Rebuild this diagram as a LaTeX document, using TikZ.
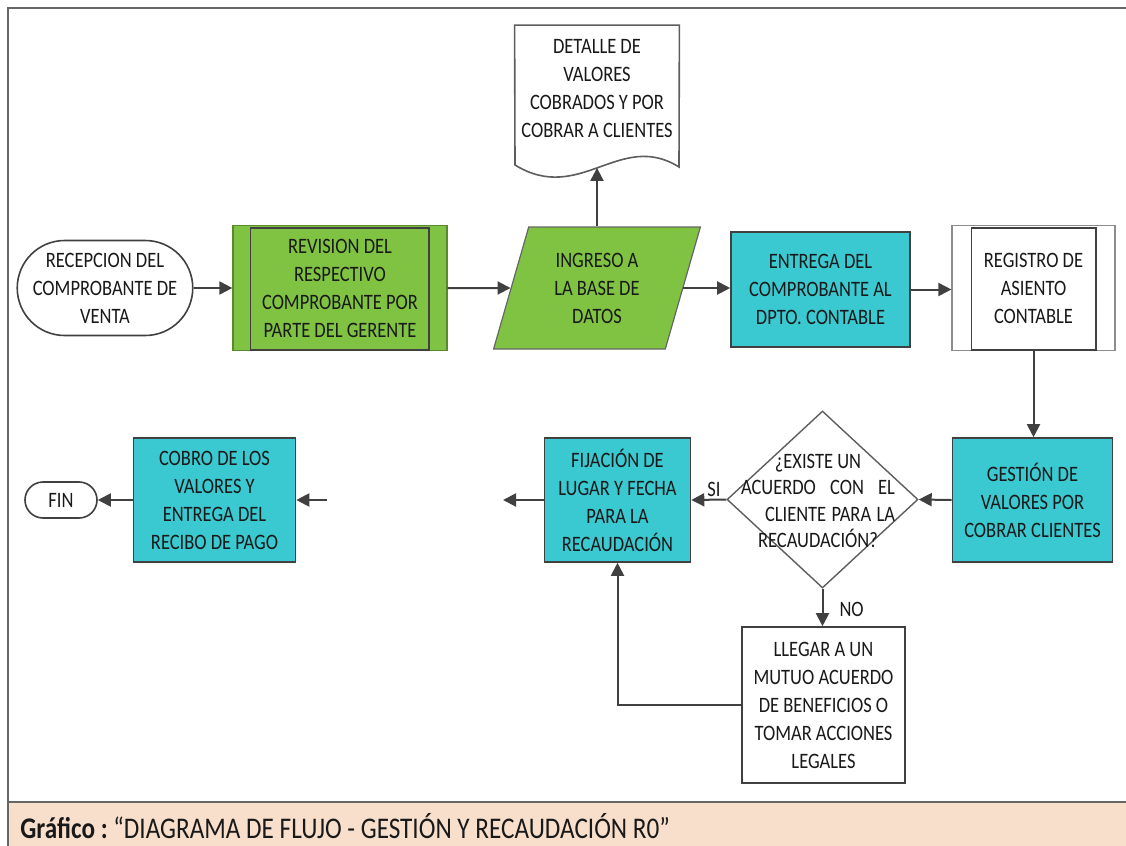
\documentclass[tikz,border=0pt]{standalone}
\usepackage{fontspec}
\setmainfont{Carlito}[FakeStretch=0.84]
\usetikzlibrary{shapes.geometric,shapes.misc,arrows.meta,calc}
\definecolor{fgreen}{RGB}{128,195,66}
\definecolor{fteal}{RGB}{58,201,209}
\definecolor{edge}{RGB}{64,64,64}
\definecolor{peach}{RGB}{248,223,204}
\definecolor{txtc}{RGB}{25,25,25}
\tikzset{
  lbl/.style={font=\fontsize{11}{14}\selectfont, text=txtc, align=center, inner sep=0pt},
  tealbox/.style={lbl, rectangle, draw=edge, line width=0.8pt, fill=fteal},
  whitebox/.style={lbl, rectangle, draw=edge, line width=0.8pt, fill=white},
  termbox/.style={lbl, rounded rectangle, draw=edge, line width=0.8pt, fill=white},
  arr/.style={draw=edge, line width=1pt, -{Triangle[length=6.5pt,width=6.5pt]}},
}
\begin{document}
\begin{tikzpicture}[x=0.5pt,y=-0.5pt]
\useasboundingbox (0,0) rectangle (1126,846);
% frame and caption
\fill[peach] (8,802) rectangle (1126,846);
\draw[edge!80, line width=1.2pt] (8,802) -- (1126,802);
\draw[edge!80, line width=1pt] (8,846) -- (8,8) -- (1126,8);
\node[anchor=west, font=\fontsize{15}{16}\selectfont, text=txtc, inner sep=0pt] (cap) at (20,826)
  {\textbf{Gráfico :}~“DIAGRAMA DE FLUJO - GESTIÓN Y RECAUDACIÓN R0”};

% top row
\node[termbox, minimum width=80pt, minimum height=47.5pt] (start) at (105,288)
  {RECEPCION DEL\\COMPROBANTE DE\\VENTA};
\node[lbl, rectangle, draw=fgreen!70!black, line width=0.6pt, fill=fgreen,
      minimum width=107pt, minimum height=62.5pt] (rev) at (340,288)
  {REVISION DEL\\RESPECTIVO\\COMPROBANTE POR\\PARTE DEL GERENTE};
\draw[edge, line width=0.9pt] ($(rev.north west)+(18,3)$) rectangle ($(rev.south east)+(-19,-1)$);
\node[lbl, trapezium, trapezium left angle=72.7, trapezium right angle=107.3, trapezium stretches=true,
      draw=edge!80, line width=0.6pt, fill=fgreen, minimum width=104pt, minimum height=61pt] (ing) at (597,288)
  {INGRESO A\\LA BASE DE\\DATOS};
\node[lbl, rectangle, minimum width=82pt, minimum height=71pt] (doc) at (597,96.5) {};
\draw[edge!85, line width=0.8pt, fill=white] (doc.north west) -- (doc.north east) -- (679,167)
  .. controls (620,130) and (580,205) .. (515,165) -- cycle;
\node[lbl] (doctxt) at (597,89) {DETALLE DE\\VALORES\\COBRADOS Y POR\\COBRAR A CLIENTES};
\node[tealbox, minimum width=89.5pt, minimum height=57.5pt] (ent) at (820.5,289.5)
  {ENTREGA DEL\\COMPROBANTE AL\\DPTO. CONTABLE};
\node[lbl, rectangle, draw=edge!60, line width=0.6pt, fill=white,
      minimum width=81.5pt, minimum height=62.5pt] (reg) at (1033.5,288)
  {REGISTRO DE\\ASIENTO\\CONTABLE};
\draw[edge, line width=0.9pt] ($(reg.north west)+(20,3)$) rectangle ($(reg.south east)+(-20,-1)$);

% middle row
\node[tealbox, minimum width=80pt, minimum height=62pt] (ges) at (1032.5,500)
  {GESTIÓN DE\\VALORES POR\\COBRAR CLIENTES};
\node[lbl, diamond, draw=edge!85, line width=0.7pt, fill=white, aspect=1.08,
      minimum width=95.5pt, minimum height=88.5pt] (dia) at (822.5,499.5) {};
\node[lbl, font=\fontsize{11}{13.2}\selectfont] (diatxt) at (818,501)
  {¿EXISTE UN\\\makebox[77pt][s]{ACUERDO\hfill CON\hfill EL}\\\hspace*{12pt}\makebox[65pt][s]{CLIENTE\hfill PARA\hfill LA}\\RECAUDACIÓN?};
\node[tealbox, minimum width=73pt, minimum height=62pt] (fij) at (617.5,500)
  {FIJACIÓN DE\\LUGAR Y FECHA\\PARA LA\\RECAUDACIÓN};
\node[tealbox, minimum width=81pt, minimum height=62pt] (cob) at (214.5,500)
  {COBRO DE LOS\\VALORES Y\\ENTREGA DEL\\RECIBO DE PAGO};
\node[termbox, minimum width=36pt, minimum height=18pt] (fin) at (61,500) {FIN};
\coordinate (fijout) at (503,500);
\coordinate (cobin) at (327,500);

% bottom
\node[whitebox, minimum width=81.5pt, minimum height=78pt] (lle) at (823.5,705)
  {LLEGAR A UN\\MUTUO ACUERDO\\DE BENEFICIOS O\\TOMAR ACCIONES\\LEGALES};

% connectors
\draw[arr] (start.east) -- (rev.west);
\draw[arr] (rev.east) -- (ing.west);
\draw[arr] (ing.center |- ing.north) -- (doc.south);
\draw[arr] (ing.east) -- (ing.east -| ent.west);
\draw[arr] (ent.east) -- (ent.east -| reg.west);
\draw[arr] (reg.south) -- (reg.south |- ges.north);
\draw[arr] (ges.west) -- (dia.east);
\draw[arr] (dia.west) -- node[lbl, above, pos=0.35, yshift=1pt] (si) {SI} (fij.east);
\draw[arr] (fij.west) -- (fijout);
\draw[arr] (cobin) -- (cob.east);
\draw[arr] (cob.west) -- (fin.east);
\draw[arr] (dia.south) -- node[lbl, right, xshift=8pt, yshift=-1pt] (no) {NO} (dia.south |- lle.north);
\draw[arr] (lle.west) -| (fij.south);
\end{tikzpicture}
\end{document}
